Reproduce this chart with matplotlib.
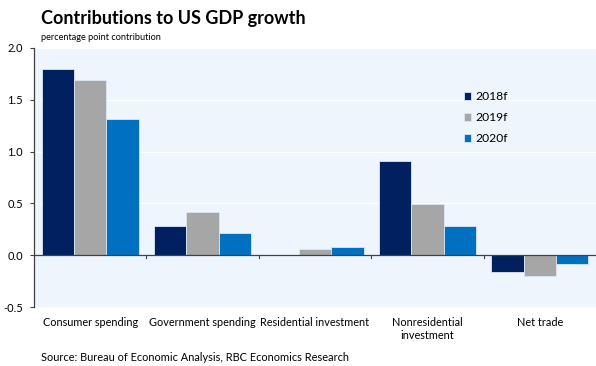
import numpy as np
import matplotlib.pyplot as plt

plt.rcParams['font.family'] = ['Lato', 'DejaVu Sans']

categories = ['Consumer spending', 'Government spending', 'Residential investment',
              'Nonresidential\ninvestment', 'Net trade']
years = ['2018f', '2019f', '2020f']
v2018 = [1.80, 0.28, 0.005, 0.91, -0.16]
v2019 = [1.69, 0.42, 0.06, 0.49, -0.20]
v2020 = [1.31, 0.21, 0.08, 0.28, -0.08]
yticks = [-0.5, 0.0, 0.5, 1.0, 1.5, 2.0]
colors = ['#002060', '#a6a6a6', '#0070c0']

fig = plt.figure(figsize=(5.96, 3.66), dpi=100)
ax = fig.add_axes([0.057, 0.161, 0.943, 0.708])
ax.set_facecolor('#eef5fd')

x = np.arange(len(categories))
w = 0.288
for i, (vals, lab) in enumerate(zip([v2018, v2019, v2020], years)):
    ax.bar(x + (i - 1) * w, vals, width=w, color=colors[i], label=lab,
           edgecolor='#dce8f6', linewidth=0.6, zorder=3)

ax.set_ylim(-0.5, 2.0)
ax.set_xlim(-0.5, len(categories) - 0.5)
ax.set_yticks(yticks)
ax.set_yticklabels(['%.1f' % t for t in yticks], fontsize=8)
ax.grid(axis='y', color='white', linewidth=1.0, zorder=0)

for s in ['top', 'right', 'bottom']:
    ax.spines[s].set_visible(False)
ax.spines['left'].set_color('#404040')
ax.spines['left'].set_linewidth(0.9)
ax.axhline(0, color='#404040', linewidth=0.9, zorder=4)
ax.tick_params(axis='y', length=3, width=0.8, color='#404040', pad=5)

# category labels below the plot, separators on the zero line
ax.set_xticks(x)
ax.set_xticklabels(categories, fontsize=7.8, linespacing=1.3)
ax.tick_params(axis='x', length=0, pad=7)
for b in x[:-1] + 0.5:
    ax.plot([b, b], [0, -0.025], color='#404040', linewidth=0.8, zorder=4)

leg = ax.legend(loc='upper left', bbox_to_anchor=(0.745, 0.876), frameon=False,
                fontsize=8.7, handlelength=0.6, handleheight=0.6,
                handletextpad=0.4, labelspacing=0.85)

fig.text(0.069, 0.95, 'Contributions to US GDP growth', fontsize=13,
         fontweight='bold', va='center')
fig.text(0.069, 0.898, 'percentage point contribution', fontsize=6.6, va='center')
fig.text(0.069, 0.024, 'Source: Bureau of Economic Analysis, RBC Economics Research',
         fontsize=7.9, va='center')

fig.savefig('out.png', dpi=100)
